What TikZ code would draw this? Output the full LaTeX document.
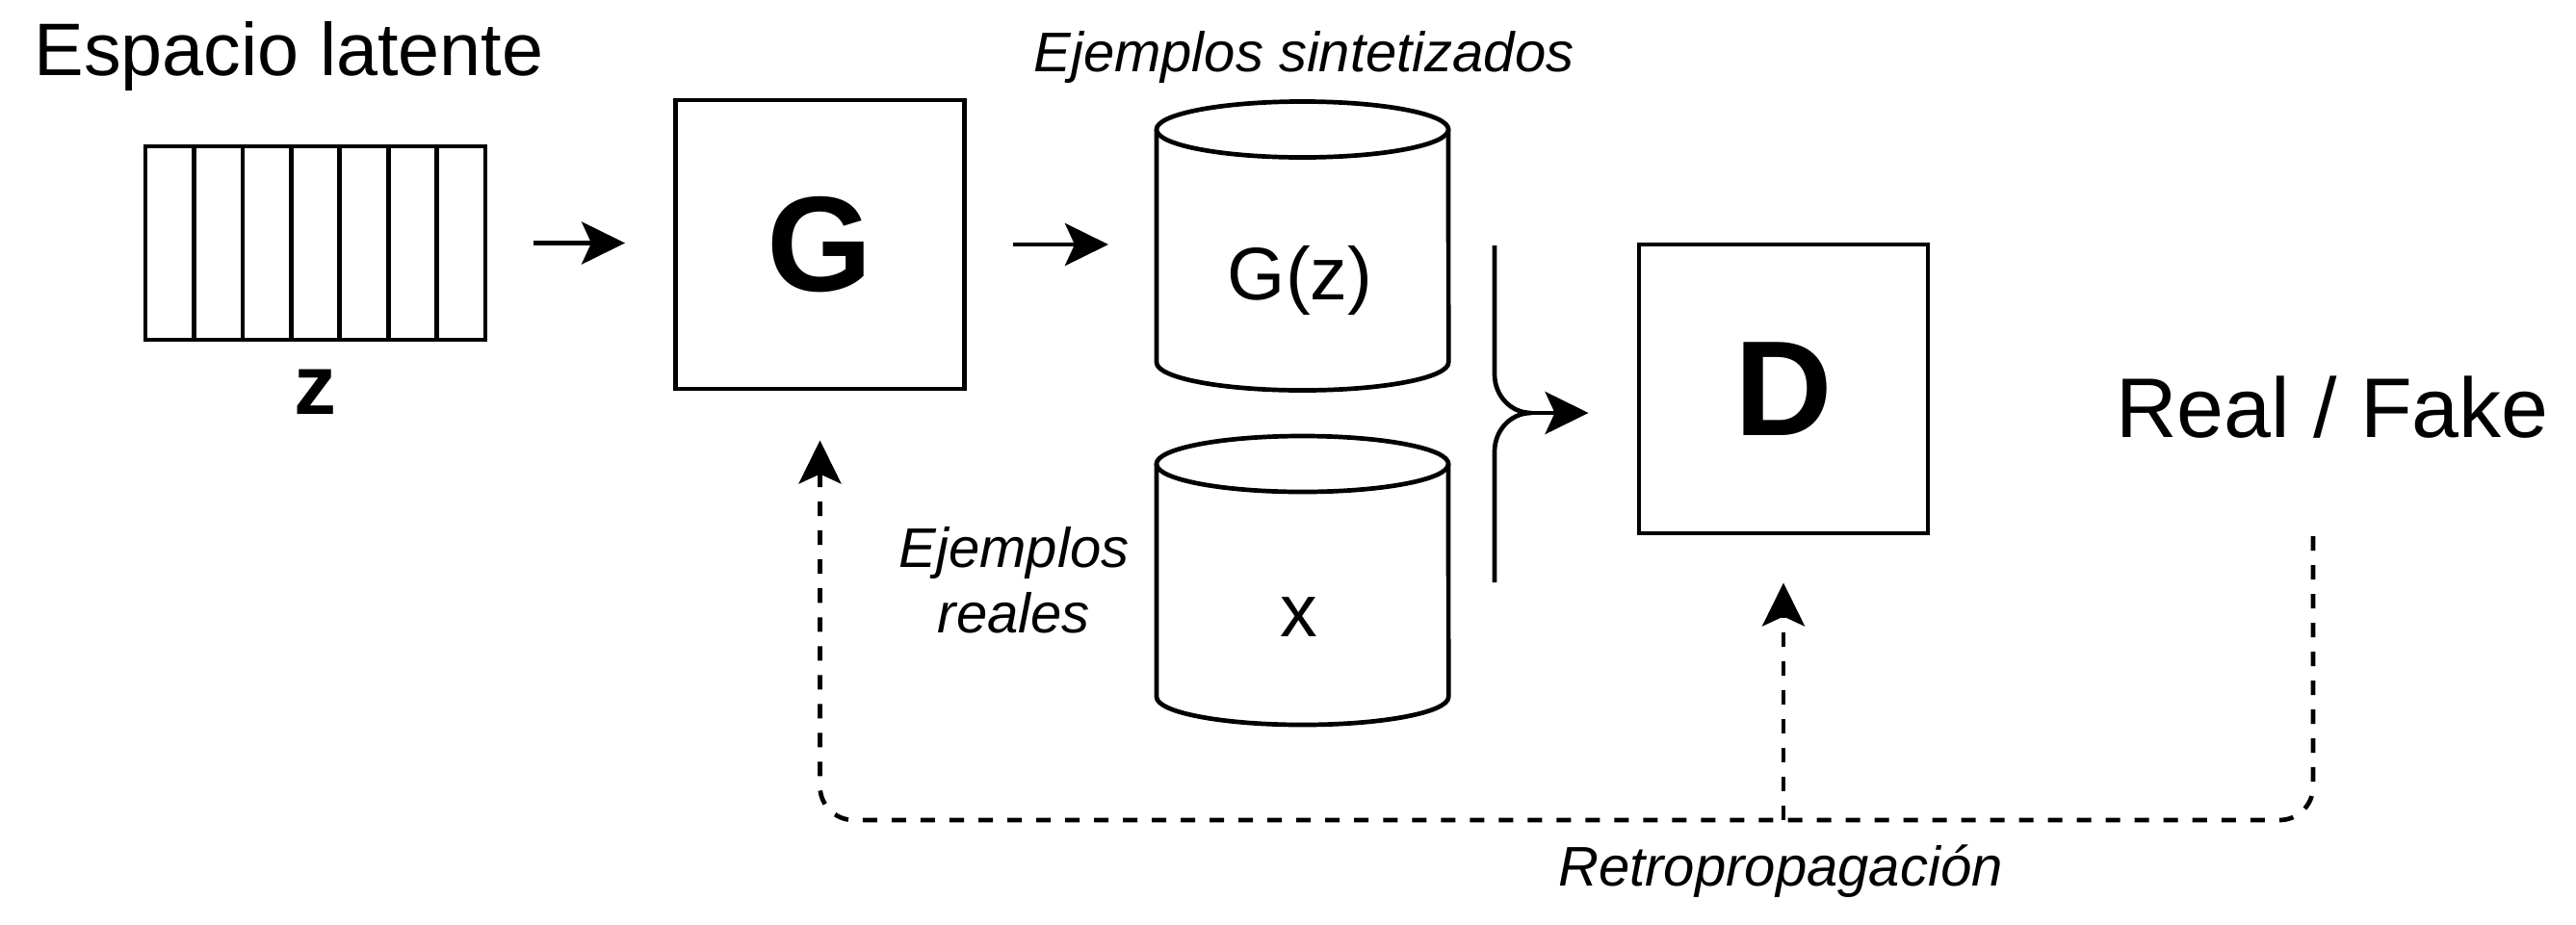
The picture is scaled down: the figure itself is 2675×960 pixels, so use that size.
\documentclass[tikz,border=0pt]{standalone}
\usepackage{fontspec}
\setmainfont{Liberation Sans}
\usetikzlibrary{arrows.meta}

\tikzset{
  thin line/.style={line width=0.47mm},
  block/.style={draw,thin line,minimum width=3cm,minimum height=3cm,
    font=\bfseries\fontsize{40}{48}\selectfont},
  tip/.style={-{Stealth[length=4.5mm,width=4.4mm,inset=1mm]}},
  flow/.style={thin line,tip,shorten >=5mm,shorten <=4.8mm},
  feedback/.style={thin line,tip,dash pattern=on 1.5mm off 1.5mm},
  note/.style={font=\itshape\fontsize{16.5}{19.3}\selectfont},
  label/.style={font=\fontsize{22}{26}\selectfont},
  datastore/.pic={
    \draw[thin line] (-151.5,-121) -- (-151.5,121)
      arc[start angle=180,end angle=360,x radius=1.515cm,y radius=0.29cm]
      -- (151.5,-121);
    \draw[thin line] (0,-121) ellipse[x radius=1.515cm,y radius=0.29cm];
    \coordinate (-w) at (-151.5,0);
  }
}

\begin{document}
\begin{tikzpicture}[x=0.01cm,y=-0.01cm]
\useasboundingbox (0,0) rectangle (2675,960);

% latent vector z
\node (zvec) at (327.5,252.5) [draw,thin line,minimum width=3.53cm,minimum height=2.01cm] {};
\foreach \i in {1,...,6}
  \draw[thin line] (151+50.43*\i,152) -- (151+50.43*\i,353);
\node[label,anchor=base] (latent) at (300,78) {Espacio latente};
\node[anchor=base,font=\bfseries\fontsize{25}{30}\selectfont] (zlab) at (327,430) {z};

% generator and discriminator
\node[block] (G) at (851.5,254) {G};
\node[block] (D) at (1852,404) {D};

% data stores
\pic (synth) at (1352.5,255.5) {datastore};
\pic (real) at (1352.5,603) {datastore};
\node[label,anchor=base] (gz) at (1350,311) {G(z)};
\node[label,anchor=base] (xr) at (1349,661) {x};
\node[note,anchor=base] (synlab) at (1354,74) {Ejemplos sintetizados};
\node[note,align=center,anchor=base] (reallab) at (1053,657) {Ejemplos\\reales};

\node[anchor=base,font=\fontsize{25}{30}\selectfont] (rf) at (2422,454) {Real / Fake};
\node[note,anchor=base] (backlab) at (1849,920) {Retropropagación};

% forward arrows
\draw[flow] (zvec.east) -- (zvec.east -| G.west);
\draw[flow] (G.east) -- (G.east -| synth-w);

% brace joining both stores
\coordinate (merge) at (1590,429);
\draw[thin line] (1552,255) -- (1552,389) to[out=-90,in=180] (merge)
  to[out=180,in=90] (1552,469) -- (1552,605);
\draw[flow,shorten <=0pt] (merge) -- (merge -| D.west);

% backpropagation
\coordinate (fb) at (2402,557);
\coordinate (bottom) at (G.south |- 0,852);
\draw[feedback,rounded corners=3.5mm,shorten >=5.1mm] (fb) |- (bottom) -- (G.south);
\draw[feedback,shorten >=4.9mm] (D.south |- bottom) -- (D.south);

\end{tikzpicture}
\end{document}
